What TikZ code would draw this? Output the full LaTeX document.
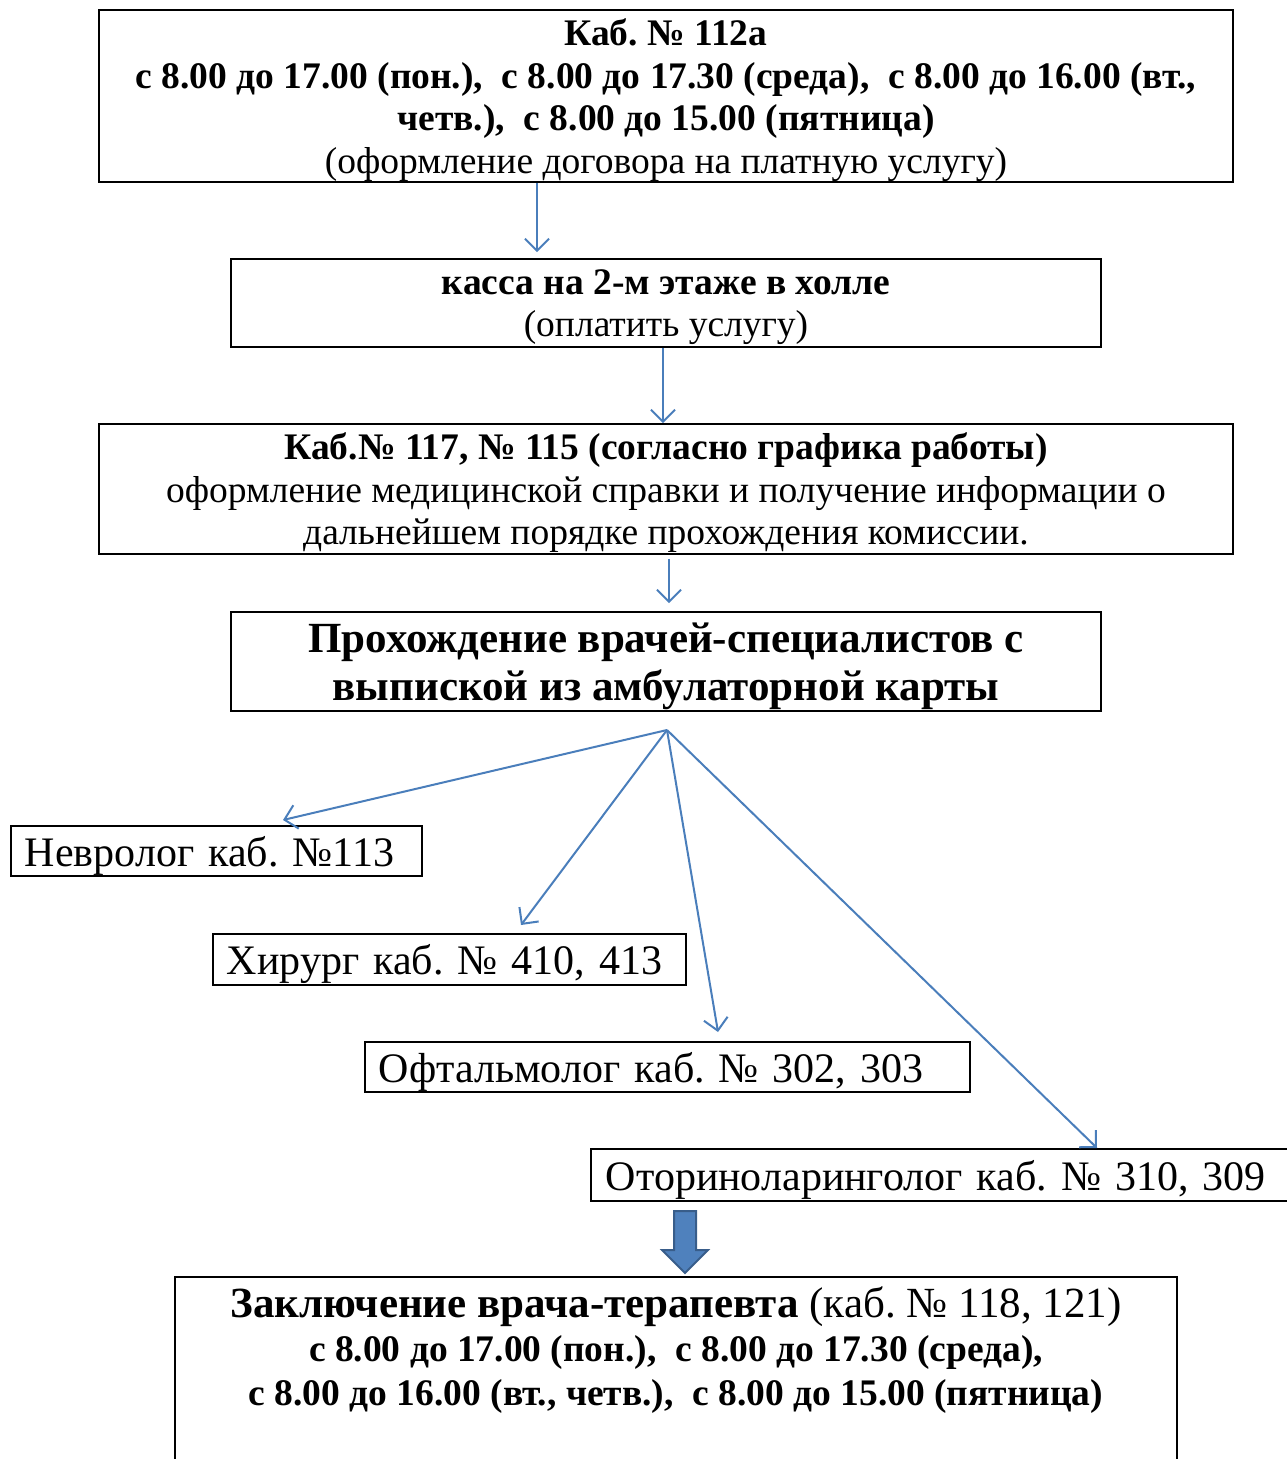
\documentclass[tikz,border=0pt]{standalone}
\usepackage{fontspec}
\setmainfont{Liberation Serif}
\usetikzlibrary{arrows.meta}
\definecolor{arrowblue}{HTML}{4A7EBB}
\definecolor{bigfill}{HTML}{4F81BD}
\definecolor{bigedge}{HTML}{385D8A}
\begin{document}
\frenchspacing
\begin{tikzpicture}[x=1pt,y=-1pt,
  box/.style={draw=black, line width=1.8pt, align=center, inner sep=0pt, text depth=0pt},
  lbox/.style={draw=black, line width=1.8pt, align=left, inner xsep=14pt, inner ysep=0pt, anchor=west, text depth=0pt},
  fs/.style={font=\fontsize{37.5}{42.5}\selectfont},
  fb/.style={font=\fontsize{43}{48}\selectfont},
  fd/.style={font=\fontsize{42}{48}\selectfont},
  arr/.style={draw=arrowblue, line width=2pt, -{Straight Barb[length=12pt,width=24pt,line width=2pt]}}]
\useasboundingbox (0,0) rectangle (1286,1459);

\node[box, fs, minimum width=1134pt, minimum height=172pt] (b1) at (666,96)
 {\textbf{Каб. № 112а}\\
  \textbf{с 8.00 до 17.00 (пон.),\ \ с 8.00 до 17.30 (среда),\ \ с 8.00 до 16.00 (вт.,}\\
  \textbf{четв.),\ \ с 8.00 до 15.00 (пятница)}\\
  (оформление договора на платную услугу)};

\node[box, fs, minimum width=870pt, minimum height=88pt] (b2) at (666,303)
 {\textbf{касса на 2-м этаже в холле}\\(оплатить услугу)};

\node[box, fs, minimum width=1134pt, minimum height=130pt] (b3) at (666,489)
 {\textbf{Каб.№ 117, № 115 (согласно графика работы)}\\
  оформление медицинской справки и получение информации о\\
  дальнейшем порядке прохождения комиссии.};

\node[box, fb, text depth=-3pt, minimum width=870pt, minimum height=99pt] (b4) at (666,661.5)
 {\textbf{Прохождение врачей-специалистов с}\\\textbf{выпиской из амбулаторной карты}};

\node[lbox, fd, minimum width=411pt, minimum height=50pt, text width=383pt] (nev) at (10,851) {Невролог каб. №113};
\node[lbox, fd, minimum width=473pt, minimum height=51pt, text width=445pt] (hir) at (212,959.5) {Хирург каб. № 410, 413};
\node[lbox, fd, minimum width=605pt, minimum height=50pt, text width=577pt] (oft) at (364,1067) {Офтальмолог каб. № 302, 303};
\node[lbox, fd, draw=none, minimum width=700pt, minimum height=50pt, text width=672pt] (oto) at (591,1175) {Оториноларинголог каб. № 310, 309};
\draw[line width=1.8pt] (oto.north east) -- (oto.north west) -- (oto.south west) -- (oto.south east);

\node[align=center, inner sep=0pt, anchor=north, font=\fontsize{37.5}{44}\selectfont] (fin) at (676,1287)
 {{\fontsize{43}{46}\selectfont\textbf{Заключение врача-терапевта} (каб. № 118, 121)}\\
  \textbf{с 8.00 до 17.00 (пон.),\ \ с 8.00 до 17.30 (среда),}\\
  \textbf{с 8.00 до 16.00 (вт., четв.),\ \ с 8.00 до 15.00 (пятница)}};
\coordinate (fl) at (175,1277);
\coordinate (fr) at (1177,1277);
\draw[line width=1.8pt] (fl |- 0,1470) -- (fl) -- (fr) -- (fr |- 0,1470);

% vertical connectors
\coordinate (x1) at (537,0);
\coordinate (x2) at (663,0);
\coordinate (x3) at (669,0);
\draw[arr, shorten >=6pt] (b1.south -| x1) -- (b2.north -| x1);
\draw[arr] (b2.south -| x2) -- (b3.north -| x2);
\draw[arr, shorten <=4pt, shorten >=8pt] (b3.south -| x3) -- (b4.north -| x3);

% fan
\coordinate (fan) at (667,730);
\coordinate (tN) at (283,820);
\coordinate (tH) at (521,925);
\coordinate (tO) at (718,1032);
\coordinate (tL) at (1097,1148);
\draw[arr] (fan) -- (tN);
\draw[arr] (fan) -- (tH);
\draw[arr] (fan) -- (tO);
\draw[arr] (fan) -- (tL);

% block arrow
\filldraw[fill=bigfill, draw=bigedge, line width=2pt]
  (674,1211) -- (696,1211) -- (696,1250) -- (708,1250) -- (685,1273) -- (662,1250) -- (674,1250) -- cycle;
\end{tikzpicture}
\end{document}
